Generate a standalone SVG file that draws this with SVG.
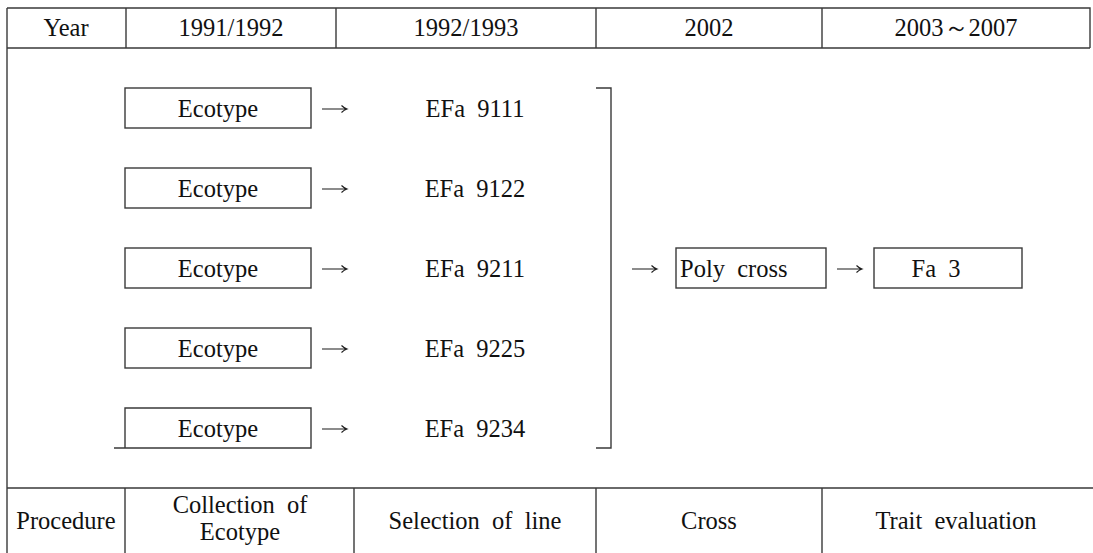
<svg xmlns="http://www.w3.org/2000/svg" width="1093" height="553" viewBox="0 0 1093 553">
<style>
.ln{stroke:#3a3a3a;stroke-width:1.4;fill:none}
.bx{stroke:#3a3a3a;stroke-width:1.4;fill:#fff}
.ar{stroke:#1a1a1a;stroke-width:1.1;fill:none}
text{font-family:"Liberation Serif","Times New Roman",serif;font-size:24.5px;fill:#111}
.c{text-anchor:middle}
</style>
<defs>
<path id="arr" class="ar" d="M0 0H25M19.5 -3.5Q22 -1 25 0Q22 1 19.5 3.5"/>
</defs>
<rect width="1093" height="553" fill="#fff"/>
<g id="table">
<path class="ln" d="M7 8H1090V48M7 8V553M7 48H1090M126 8V48M336 8V48M596 8V48M822 8V48"/>
<path class="ln" d="M7 488H1093M125 488V553M354 488V553M596 488V553M822 488V553"/>
<text class="c" x="66" y="36">Year</text>
<text class="c" x="231" y="36">1991/1992</text>
<text class="c" x="466" y="36">1992/1993</text>
<text class="c" x="709" y="36">2002</text>
<text class="c" x="956" y="36">2003～2007</text>
<text class="c" x="66" y="529">Procedure</text>
<text class="c" x="240" y="513" xml:space="preserve">Collection  of</text>
<text class="c" x="240" y="540">Ecotype</text>
<text class="c" x="475" y="529" xml:space="preserve">Selection  of  line</text>
<text class="c" x="709" y="529">Cross</text>
<text class="c" x="956" y="529" xml:space="preserve">Trait  evaluation</text>
</g>
<g id="eco1"><rect class="bx" x="125" y="88" width="186" height="40"/><text class="c" x="218" y="117">Ecotype</text></g>
<g id="eco2"><rect class="bx" x="125" y="168" width="186" height="40"/><text class="c" x="218" y="197">Ecotype</text></g>
<g id="eco3"><rect class="bx" x="125" y="248" width="186" height="40"/><text class="c" x="218" y="277">Ecotype</text></g>
<g id="eco4"><rect class="bx" x="125" y="328" width="186" height="40"/><text class="c" x="218" y="357">Ecotype</text></g>
<g id="eco5"><path class="ln" d="M114 448H311V408H125V448"/><text class="c" x="218" y="437">Ecotype</text></g>
<g id="efa1"><text class="c" x="475" y="117" xml:space="preserve">EFa  9111</text></g>
<g id="efa2"><text class="c" x="475" y="197" xml:space="preserve">EFa  9122</text></g>
<g id="efa3"><text class="c" x="475" y="277" xml:space="preserve">EFa  9211</text></g>
<g id="efa4"><text class="c" x="475" y="357" xml:space="preserve">EFa  9225</text></g>
<g id="efa5"><text class="c" x="475" y="437" xml:space="preserve">EFa  9234</text></g>
<g id="poly"><rect class="bx" x="676" y="248" width="150" height="40"/><text x="680" y="277" xml:space="preserve">Poly  cross</text></g>
<g id="fa3"><rect class="bx" x="874" y="248" width="148" height="40"/><text class="c" x="936" y="277" xml:space="preserve">Fa  3</text></g>
<g id="connectors">
<path class="ln" d="M596 88H611V448H596"/>
<use href="#arr" x="322" y="109"/>
<use href="#arr" x="322" y="189"/>
<use href="#arr" x="322" y="269"/>
<use href="#arr" x="322" y="349"/>
<use href="#arr" x="322" y="429"/>
<use href="#arr" x="632" y="269"/>
<use href="#arr" x="837" y="269"/>
</g>
</svg>
